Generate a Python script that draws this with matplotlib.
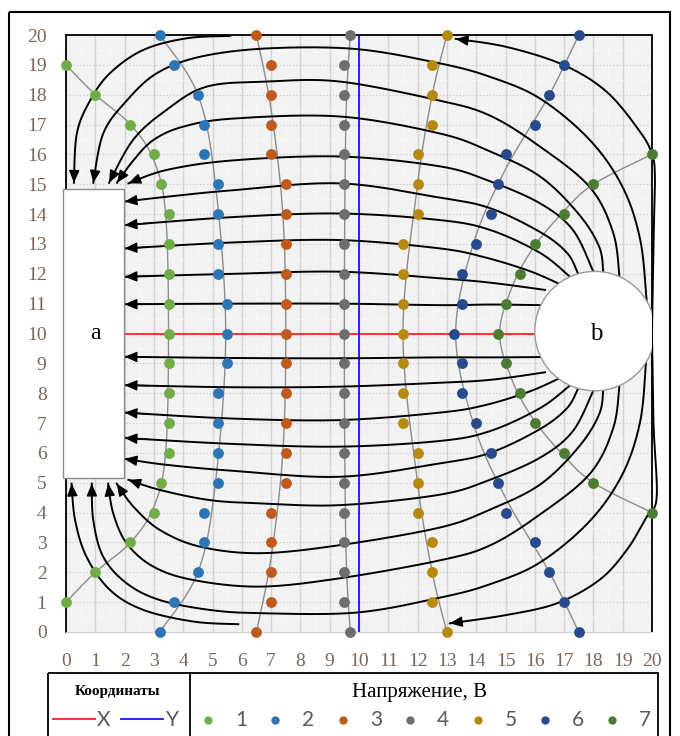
import numpy as np
import matplotlib
matplotlib.use("Agg")
import matplotlib.pyplot as plt
from matplotlib.patches import Rectangle, Ellipse

# equipotential points (x for each y level)
v1_y = list(range(1, 20))
v1_x = [0, 1, 2.2, 3, 3.25, 3.5, 3.5, 3.5, 3.5, 3.5, 3.5, 3.5, 3.5, 3.5, 3.25, 3, 2.2, 1, 0]
v_y = list(range(21))
v2_x = [3.2, 3.7, 4.5, 4.7, 4.7, 5.2, 5.2, 5.2, 5.2, 5.5, 5.5, 5.5, 5.2, 5.2, 5.2, 5.2, 4.7, 4.7, 4.5, 3.7, 3.2]
v3_x = [6.5, 7, 7, 7, 7, 7.5, 7.5, 7.5, 7.5, 7.5, 7.5, 7.5, 7.5, 7.5, 7.5, 7.5, 7, 7, 7, 7, 6.5]
v4_x = [9.7, 9.5, 9.5, 9.5, 9.5, 9.5, 9.5, 9.5, 9.5, 9.5, 9.5, 9.5, 9.5, 9.5, 9.5, 9.5, 9.5, 9.5, 9.5, 9.5, 9.7]
v5_x = [13, 12.5, 12.5, 12.5, 12, 12, 12, 11.5, 11.5, 11.5, 11.5, 11.5, 11.5, 11.5, 12, 12, 12, 12.5, 12.5, 12.5, 13]
v6_x = [17.5, 17, 16.5, 16, 15, 14.75, 14.5, 14, 13.5, 13.5, 13.25, 13.5, 13.5, 14, 14.5, 14.75, 15, 16, 16.5, 17, 17.5]
v7_y = list(range(4, 17))
v7_x = [20, 18, 17, 16, 15.5, 15, 14.75, 15, 15.5, 16, 17, 18, 20]

# smooth gray equipotential curves drawn next to the points
e1_x = [0, 1, 2.2, 3.0, 3.4, 3.5, 3.4, 3.0, 2.2, 1, 0]
e1_y = [1, 2, 3, 4.2, 6, 10, 14, 15.8, 17, 18, 19]
e2_x = [3.2, 4.5, 5.1, 5.45, 5.1, 4.5, 3.2]
e2_y = [0, 2, 5, 10, 15, 18, 20]
e3_x = [6.5, 7.0, 7.4, 7.5, 7.4, 7.0, 6.5]
e3_y = [0, 2.5, 6, 10, 14, 17.5, 20]
e4_x = [9.7, 9.55, 9.5, 9.55, 9.7]
e4_y = [0, 3, 10, 17, 20]
e5_x = [13, 12.5, 12.0, 11.5, 12.0, 12.5, 13]
e5_y = [0, 2, 5, 10, 15, 18, 20]
e6_x = [17.5, 16.5, 15.0, 13.9, 13.3, 13.9, 15.0, 16.5, 17.5]
e6_y = [0, 2, 4.5, 7, 10, 13, 15.5, 18, 20]
e7_x = [20, 18, 16.9, 15.9, 15.2, 14.8, 15.2, 15.9, 16.9, 18, 20]
e7_y = [4, 5, 6, 7.2, 8.5, 10, 11.5, 12.8, 14, 15, 16]

colors = ["#70ad47", "#2e75b6", "#c05a1c", "#6e6e6e", "#b8890f", "#264a8c", "#4a7c31"]
labels = ["1", "2", "3", "4", "5", "6", "7"]

# field lines (from b towards a)
u0_x = [20.0, 20.05, 20.1, 20.0, 19.59, 18.45, 16.97, 15.04, 13.3]
u0_y = [10.1, 13.0, 15.2, 16.0, 16.76, 18.1, 19.0, 19.6, 19.87]
u1_x = [5.6, 4.12, 2.64, 1.5, 0.82, 0.37, 0.27]
u1_y = [19.97, 19.89, 19.5, 18.72, 17.8, 16.7, 15.05]
u2_x = [19.82, 19.6, 19.0, 17.88, 16.18, 14.47, 12.76, 9.9, 6.85, 4.57, 3.1, 2.07, 1.27, 0.93]
u2_y = [11.07, 13.13, 14.9, 16.48, 17.87, 18.6, 19.05, 19.53, 19.55, 19.27, 18.72, 17.8, 16.7, 15.05]
u3_x = [18.9, 18.68, 17.88, 16.18, 14.47, 12.76, 9.35, 6.85, 4.8, 3.44, 2.3, 1.47]
u3_y = [11.79, 13.36, 14.9, 16.26, 17.3, 17.8, 18.44, 18.44, 18.27, 17.5, 16.5, 15.05]
u4_x = [18.34, 18.2, 17.5, 16.18, 14.47, 12.76, 9.35, 5.7, 4.0, 2.98, 2.3, 1.74]
u4_y = [12.0, 12.9, 14.0, 15.26, 16.1, 16.7, 17.27, 17.2, 16.93, 16.48, 15.8, 15.05]
u5_x = [18.0, 17.3, 16.18, 14.47, 12.76, 9.35, 5.7, 3.44, 2.13]
u5_y = [12.07, 13.47, 14.36, 15.1, 15.6, 15.93, 15.8, 15.48, 15.03]
u6_x = [17.48, 17.1, 16.18, 14.47, 12.76, 9.35, 5.7, 3.43, 2.0]
u6_y = [12.0, 12.7, 13.4, 14.2, 14.55, 15.03, 14.8, 14.58, 14.42]
u7_x = [17.2, 16.18, 14.47, 12.76, 9.35, 5.7, 2.0]
u7_y = [11.9, 12.7, 13.47, 13.8, 14.02, 13.9, 13.63]
u8_x = [16.8, 15.8, 14.3, 12.76, 9.35, 5.7, 2.0]
u8_y = [11.68, 12.1, 12.55, 12.85, 13.13, 13.05, 12.85]
u9_x = [16.35, 14.5, 12.76, 9.35, 5.7, 2.0]
u9_y = [11.46, 11.7, 11.85, 12.07, 12.0, 11.9]
u10_x = [16.18, 14.5, 12.76, 9.35, 5.7, 2.0]
u10_y = [10.95, 10.97, 10.95, 11.0, 11.0, 10.98]

l0_x = [20.0, 20.05, 20.16, 19.82, 19.14, 18.2, 16.75, 15.04, 13.1]
l0_y = [9.9, 7.0, 4.53, 3.86, 2.75, 1.74, 0.96, 0.57, 0.29]
l1_x = [5.88, 4.35, 2.64, 1.5, 0.7, 0.31, 0.19]
l1_y = [0.26, 0.35, 0.74, 1.41, 2.52, 3.75, 4.97]
l2_x = [19.8, 19.6, 19.0, 17.88, 16.18, 14.47, 12.76, 9.9, 6.62, 4.9, 3.2, 2.07, 1.27, 0.93, 0.88]
l2_y = [9.1, 7.07, 5.3, 3.72, 2.33, 1.6, 1.15, 0.65, 0.63, 0.74, 1.07, 1.63, 2.52, 3.75, 4.97]
l3_x = [18.9, 18.68, 17.88, 16.18, 14.47, 12.76, 9.35, 6.62, 4.35, 2.98, 2.07, 1.61, 1.44]
l3_y = [8.37, 6.84, 5.3, 3.94, 2.9, 2.4, 1.8, 1.52, 1.74, 2.19, 2.97, 3.98, 4.97]
l4_x = [18.34, 18.2, 17.5, 16.18, 14.47, 12.76, 9.35, 6.62, 4.57, 3.2, 2.3, 1.73]
l4_y = [8.16, 7.3, 6.2, 4.94, 4.1, 3.5, 2.91, 2.64, 2.86, 3.42, 4.2, 4.97]
l5_x = [18.0, 17.3, 16.18, 14.47, 12.76, 9.35, 6.62, 4.9, 3.2, 2.13]
l5_y = [8.09, 6.73, 5.84, 5.1, 4.6, 4.25, 4.31, 4.42, 4.76, 5.1]
l6_x = [17.48, 17.1, 16.18, 14.47, 12.76, 9.35, 5.7, 3.43, 2.0]
l6_y = [8.16, 7.5, 6.8, 6.0, 5.65, 5.2, 5.4, 5.6, 5.8]
l7_x = [17.2, 16.18, 14.47, 12.76, 9.35, 5.7, 2.0]
l7_y = [8.26, 7.5, 6.73, 6.4, 6.21, 6.3, 6.5]
l8_x = [16.8, 15.8, 14.3, 12.76, 9.35, 5.7, 2.0]
l8_y = [8.48, 8.05, 7.6, 7.35, 7.1, 7.15, 7.35]
l9_x = [16.35, 14.5, 12.76, 9.35, 5.7, 2.0]
l9_y = [8.7, 8.45, 8.35, 8.22, 8.2, 8.27]
l10_x = [16.18, 14.5, 12.76, 9.35, 5.7, 2.0]
l10_y = [9.21, 9.2, 9.2, 9.17, 9.18, 9.22]

field_lines = [(u0_x, u0_y), (u1_x, u1_y), (u2_x, u2_y), (u3_x, u3_y), (u4_x, u4_y),
               (u5_x, u5_y), (u6_x, u6_y), (u7_x, u7_y), (u8_x, u8_y), (u9_x, u9_y),
               (u10_x, u10_y), (l0_x, l0_y), (l1_x, l1_y), (l2_x, l2_y), (l3_x, l3_y),
               (l4_x, l4_y), (l5_x, l5_y), (l6_x, l6_y), (l7_x, l7_y), (l8_x, l8_y),
               (l9_x, l9_y), (l10_x, l10_y)]


def smooth(xs, ys, n=20):
    # Catmull-Rom curve through the points, like Excel smoothed lines
    p = np.column_stack([xs, ys]).astype(float)
    p = np.vstack([p[0], p, p[-1]])
    t = np.linspace(0, 1, n, endpoint=False)[:, None]
    out = []
    for i in range(1, len(p) - 2):
        p0, p1, p2, p3 = p[i - 1], p[i], p[i + 1], p[i + 2]
        out.append(0.5 * (2 * p1 + (p2 - p0) * t + (2 * p0 - 5 * p1 + 4 * p2 - p3) * t ** 2
                          + (3 * p1 - p0 - 3 * p2 + p3) * t ** 3))
    out.append(p[-2][None])
    return np.vstack(out)


serif = "Liberation Serif"
tick_col = "#7a6656"

fig = plt.figure(figsize=(6.8, 7.36), dpi=100)
ax = fig.add_axes([66 / 680, 1 - 632 / 736, 586 / 680, 597 / 736])
ax.set_facecolor("#f2f2f2")
ax.set_xlim(0, 20)
ax.set_ylim(0, 20)
ax.set_xticks(range(21))
ax.set_yticks(range(21))
ax.set_xticks(np.arange(0, 20.01, 0.5), minor=True)
ax.set_yticks(np.arange(0, 20.01, 0.5), minor=True)
ax.xaxis.grid(True, which="major", color="#d2d2d2", lw=1.0)
ax.yaxis.grid(True, which="major", color="#c4c4c4", lw=0.8, ls=(0, (1, 2)))
ax.grid(True, which="minor", color="#ffffff", lw=0.8, ls=(0, (1, 2)))
ax.set_axisbelow(True)
ax.tick_params(which="both", length=0)
ax.tick_params(axis="x", pad=15)
ax.tick_params(axis="y", pad=14)
for lab in ax.get_xticklabels() + ax.get_yticklabels():
    lab.set_fontfamily(serif)
    lab.set_fontsize(14)
    lab.set_color(tick_col)
for s in ["left", "top", "right"]:
    ax.spines[s].set_color("black")
    ax.spines[s].set_linewidth(1.3)
ax.spines["bottom"].set_color("#d0d0d0")

# equipotential curves + points
curves = [(e1_x, e1_y), (e2_x, e2_y), (e3_x, e3_y), (e4_x, e4_y), (e5_x, e5_y), (e6_x, e6_y), (e7_x, e7_y)]
series = [(v1_x, v1_y), (v2_x, v_y), (v3_x, v_y), (v4_x, v_y), (v5_x, v_y), (v6_x, v_y), (v7_x, v7_y)]
for (cx, cy), (xs, ys), c in zip(curves, series, colors):
    cur = smooth(cx, cy)
    ax.plot(cur[:, 0], cur[:, 1], color="#8c8c8c", lw=1.0, zorder=2, clip_on=False)
    ax.plot(xs, ys, "o", color=c, ms=7.8, mec="none", zorder=4, clip_on=False)

# X and Y lines
ax.plot([2, 16], [10, 10], color="#ff2020", lw=1.3, zorder=2.5)
ax.plot([10, 10], [0, 20], color="#1515ff", lw=1.3, zorder=2.5)

# field lines with arrows
for xs, ys in field_lines:
    cur = smooth(xs, ys)
    ax.plot(cur[:, 0], cur[:, 1], color="black", lw=1.4, zorder=3, clip_on=False)
    ax.annotate("", xy=cur[-1], xytext=cur[-7],
                arrowprops=dict(arrowstyle="-|>,head_length=0.75,head_width=0.32",
                                color="black", lw=1.0, shrinkA=0, shrinkB=0),
                zorder=3.5, annotation_clip=False)

# electrodes
ax.add_patch(Rectangle((-0.1, 5.15), 2.08, 9.7, facecolor="white", edgecolor="#8c8c8c",
                       lw=1.0, zorder=5, clip_on=False))
ax.add_patch(Ellipse((18.05, 10.08), 4.1, 4.0, facecolor="white", edgecolor="#9a9a9a",
                     lw=1.0, zorder=5))
ax.text(1.0, 10, "a", fontfamily=serif, fontsize=17, ha="center", va="center", zorder=6)
ax.text(18.1, 10, "b", fontfamily=serif, fontsize=18, ha="center", va="center", zorder=6)

# frame and legend table
deco = fig.add_axes([0, 0, 1, 1], zorder=-1)
deco.set_xlim(0, 680)
deco.set_ylim(736, 0)
deco.axis("off")
deco.add_patch(Rectangle((9, 12), 661, 740, fill=False, edgecolor="black", lw=1.5))
deco.add_patch(Rectangle((48, 673), 610, 80, fill=False, edgecolor="black", lw=1.3))
deco.plot([190, 190], [673, 740], color="black", lw=1.3)

deco.text(118, 691, "Координаты", fontfamily=serif, fontsize=11, fontweight="bold",
          ha="center", va="center")
deco.plot([53, 95], [719, 719], color="#ff2020", lw=1.3)
deco.text(104, 720, "X", fontfamily="Lato", fontsize=15, color="#595959", ha="center", va="center")
deco.plot([121, 163], [719, 719], color="#1515ff", lw=1.3)
deco.text(172, 720, "Y", fontfamily="Lato", fontsize=15, color="#595959", ha="center", va="center")

deco.text(420, 692, "Напряжение, В", fontfamily=serif, fontsize=15, ha="center", va="center")
for i, (c, lab) in enumerate(zip(colors, labels)):
    x0 = 208 + i * 67.4
    deco.plot([x0], [720], "o", color=c, ms=6, mec="none")
    deco.text(x0 + 33, 720, lab, fontfamily="Lato", fontsize=15, color="#595959",
              ha="center", va="center")

fig.savefig("out.png", dpi=100)
